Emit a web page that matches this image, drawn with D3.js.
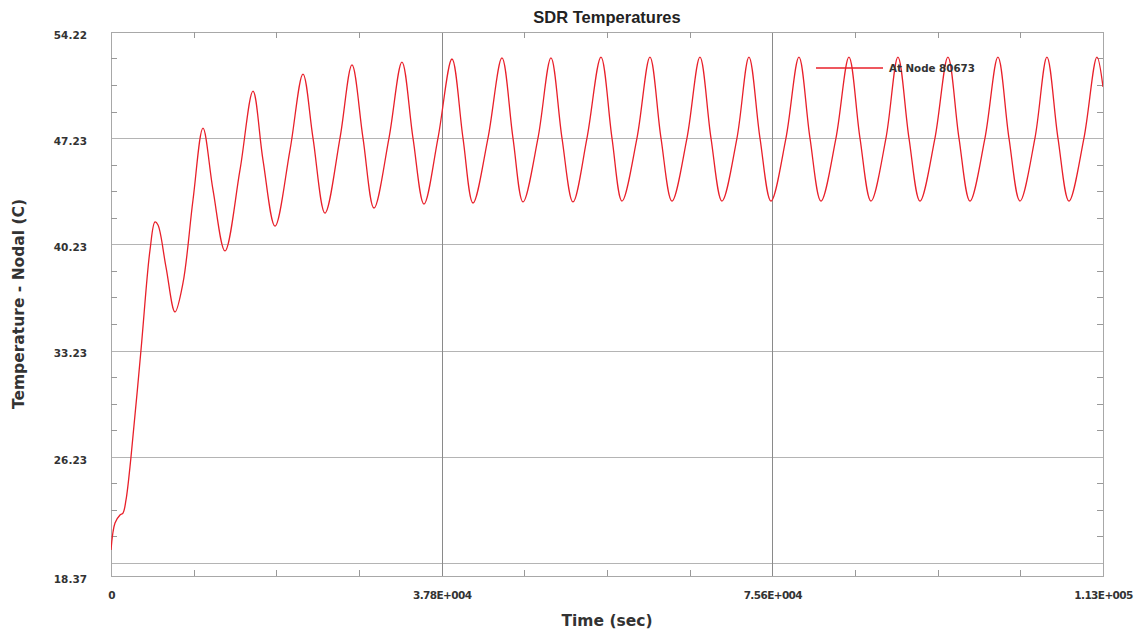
<!DOCTYPE html>
<head>
  <meta charset="utf-8">
  <script src="https://d3js.org/d3.v7.min.js"></script>
  <style>
    body { margin:0; background:#fff; overflow:hidden; }
    svg { display:block; }
    .tickLabel text { font-family: "DejaVu Sans", Verdana, sans-serif; font-weight: bold; font-size: 10.5px; fill: #333; }
    .title { font-family: "Liberation Sans", Arial, sans-serif; font-weight: bold; font-size: 16.5px; fill: #222; }
    .axisTitle { font-family: "DejaVu Sans", Verdana, sans-serif; font-weight: bold; font-size: 15.5px; fill: #333; }
    .legendText { font-family: "DejaVu Sans", Verdana, sans-serif; font-weight: bold; font-size: 10.3px; fill: #333; }
  </style>
</head>

<body>
  <script>
    // temperature at node 80673
    var timeSec = [0, 457, 1029, 1372, 1715, 2286, 3429, 4458, 5030, 5373,
      6287, 7316, 8230, 9373, 10516, 11660, 13031, 14746, 16232, 17375,
      18747, 20461, 21948, 23091, 24462, 26177, 27549, 28806, 30064, 31778,
      33264, 34522, 35779, 37379, 38980, 40237, 41380, 43095, 44695, 45952,
      47096, 48810, 50296, 51554, 52811, 54411, 56012, 57269, 58412, 60127,
      61613, 62871, 64128, 65843, 67329, 68586, 69843, 71558, 72930, 74187,
      75445, 77159, 78645, 79903, 81160, 82875, 84361, 85618, 86876, 88590,
      89962, 91219, 92477, 94191, 95678, 96935, 98192, 99907, 101393, 102650,
      103908, 105622, 106994, 108251, 109508, 111223, 112709, 113400];
    var tempC = [20.08, 21.86, 22.39, 22.52, 23.38, 26.21, 33.26, 39.85, 41.70, 41.50,
      38.73, 35.77, 37.68, 43.15, 47.89, 43.81, 39.79, 45.13, 50.33, 45.78,
      41.43, 46.44, 51.45, 47.23, 42.29, 47.23, 52.05, 47.23, 42.62, 47.23,
      52.24, 47.23, 42.88, 47.23, 52.44, 47.23, 42.95, 47.23, 52.51, 47.23,
      43.02, 47.23, 52.51, 47.23, 43.02, 47.23, 52.57, 47.23, 43.08, 47.23,
      52.57, 47.23, 43.08, 47.23, 52.57, 47.23, 43.08, 47.23, 52.57, 47.23,
      43.08, 47.23, 52.57, 47.23, 43.08, 47.23, 52.57, 47.23, 43.08, 47.23,
      52.57, 47.23, 43.08, 47.23, 52.57, 47.23, 43.08, 47.23, 52.57, 47.23,
      43.08, 47.23, 52.57, 47.23, 43.08, 47.23, 52.57, 50.60];

    var xTickValues = [0, 37800, 75600, 113400];
    var xTickLabels = ["0", "3.78E+004", "7.56E+004", "1.13E+005"];
    var xGridValues = [37800, 75600];
    var xMinorTicks = [9450, 18900, 28350, 47250, 56700, 66150, 85050, 94500, 103950];

    var yTickValues = [18.37, 26.23, 33.23, 40.23, 47.23, 54.22];
    var yGridValues = [19.23, 26.23, 33.23, 40.23, 47.23];
    var yMinorTicks = [20.98, 22.73, 24.48, 27.98, 29.73, 31.48, 34.98, 36.73, 38.48,
      41.98, 43.73, 45.48, 48.98, 50.73, 52.48];

    var seriesName = "At Node 80673";

    var width = 1143, height = 637;
    var margin = {top: 32, bottom: 61, left: 111, right: 40};
    var innerWidth = width - margin.left - margin.right;
    var innerHeight = height - margin.top - margin.bottom;

    var data = timeSec.map(function(t, i){ return {t: t, v: tempC[i]}; });

    var x = d3.scaleLinear().domain([0, 113400]).range([0, innerWidth]);
    var y = d3.scaleLinear().domain([18.37, 54.22]).range([innerHeight, 0]);

    var svg = d3.select('body').append('svg')
      .attr('width', width)
      .attr('height', height);

    var g = svg.append('g')
      .attr('transform', `translate(${margin.left},${margin.top})`);

    // axis used only for its tick lines
    function plain(sel, color) {
      sel.select('.domain').remove();
      sel.selectAll('line').attr('stroke', color).attr('shape-rendering', 'crispEdges');
      sel.selectAll('text').remove();
    }

    // grid
    g.append('g').call(d3.axisLeft(y).tickValues(yGridValues).tickSize(-innerWidth).tickFormat(''))
      .call(plain, '#b4b4b4');
    g.append('g').call(d3.axisBottom(x).tickValues(xGridValues).tickSize(innerHeight).tickFormat(''))
      .call(plain, '#8a8a8a');

    // frame
    g.append('rect')
      .attr('width', innerWidth).attr('height', innerHeight)
      .attr('fill', 'none').attr('stroke', '#a8a8a8')
      .attr('shape-rendering', 'crispEdges');

    // minor ticks on all four sides, pointing in
    g.append('g').call(d3.axisRight(y).tickValues(yMinorTicks).tickSize(6).tickFormat('')).call(plain, '#999');
    g.append('g').attr('transform', `translate(${innerWidth},0)`)
      .call(d3.axisLeft(y).tickValues(yMinorTicks).tickSize(6).tickFormat('')).call(plain, '#999');
    g.append('g').call(d3.axisBottom(x).tickValues(xMinorTicks).tickSize(6).tickFormat('')).call(plain, '#999');
    g.append('g').attr('transform', `translate(0,${innerHeight})`)
      .call(d3.axisTop(x).tickValues(xMinorTicks).tickSize(6).tickFormat('')).call(plain, '#999');

    // tick labels
    var yLab = g.append('g').attr('class', 'tickLabel')
      .call(d3.axisLeft(y).tickValues(yTickValues).tickSize(0).tickPadding(24).tickFormat(d3.format('.2f')));
    yLab.select('.domain').remove();
    yLab.attr('font-family', null).attr('font-size', null);
    yLab.selectAll('text').attr('dy', '0.6em');

    var xLab = g.append('g').attr('class', 'tickLabel')
      .attr('transform', `translate(0,${innerHeight})`)
      .call(d3.axisBottom(x).tickValues(xTickValues).tickSize(0).tickPadding(16)
        .tickFormat(function(d, i){ return xTickLabels[i]; }));
    xLab.select('.domain').remove();
    xLab.attr('font-family', null).attr('font-size', null);
    xLab.selectAll('text').attr('letter-spacing', '-0.6px');

    // series
    g.append('clipPath').attr('id', 'clip')
      .append('rect').attr('width', innerWidth).attr('height', innerHeight);

    var line = d3.line()
      .x(function(d){ return x(d.t); })
      .y(function(d){ return y(d.v); })
      .curve(d3.curveCatmullRom.alpha(0.5));

    g.append('path')
      .datum(data)
      .attr('clip-path', 'url(#clip)')
      .attr('d', line)
      .attr('fill', 'none')
      .attr('stroke', '#e8202a')
      .attr('stroke-width', 1.3);

    // legend
    var legend = g.append('g').attr('transform', 'translate(705,36)');
    legend.append('line')
      .attr('x1', 0).attr('x2', 67)
      .attr('stroke', '#e8202a').attr('stroke-width', 1.3);
    legend.append('text').attr('class', 'legendText')
      .attr('x', 73).attr('y', 4)
      .text(seriesName);

    // titles
    svg.append('text').attr('class', 'title')
      .attr('x', margin.left + innerWidth / 2).attr('y', 23)
      .attr('text-anchor', 'middle')
      .text('SDR Temperatures');

    svg.append('text').attr('class', 'axisTitle')
      .attr('x', margin.left + innerWidth / 2).attr('y', 626)
      .attr('text-anchor', 'middle')
      .text('Time (sec)');

    svg.append('text').attr('class', 'axisTitle')
      .attr('transform', `translate(24,${margin.top + innerHeight / 2}) rotate(-90)`)
      .attr('text-anchor', 'middle')
      .text('Temperature - Nodal (C)');
  </script>
</body>
